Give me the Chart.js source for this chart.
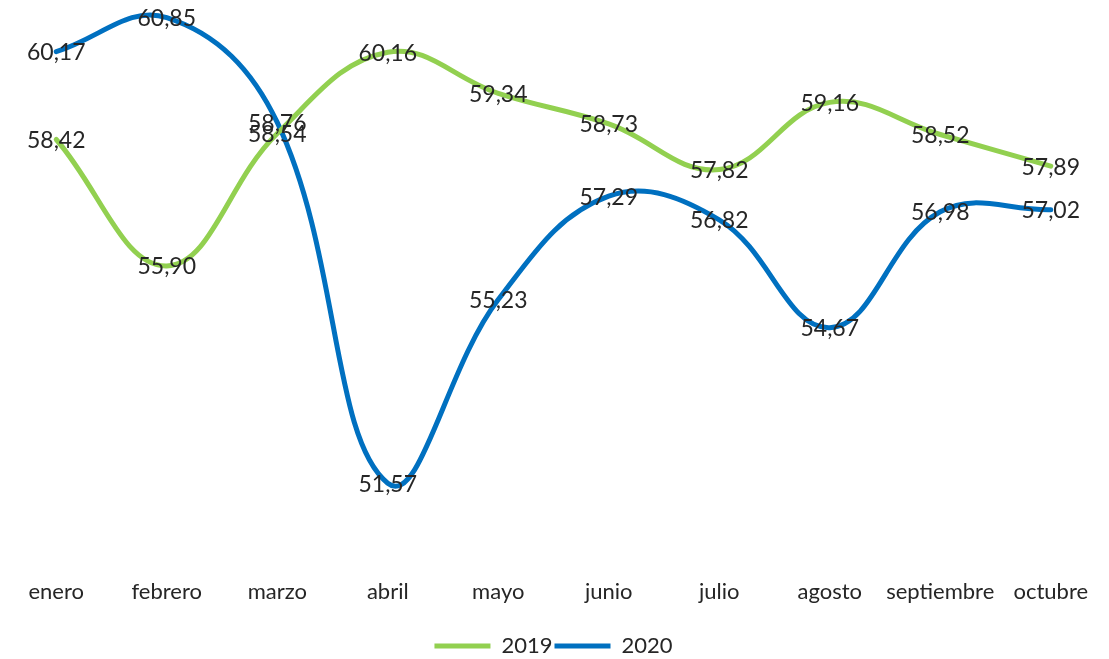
<!DOCTYPE html>
<html>
<head>
<meta charset="utf-8">
<script src="https://cdn.jsdelivr.net/npm/chart.js@4/dist/chart.umd.min.js"></script>
<style>
  html, body { margin: 0; padding: 0; background: #fff; }
  #wrap { width: 1109px; height: 659px; }
</style>
</head>
<body>
<div id="wrap"><canvas id="graph"></canvas></div>
<script>
const months = ['enero', 'febrero', 'marzo', 'abril', 'mayo', 'junio', 'julio', 'agosto', 'septiembre', 'octubre']
const values2019 = [58.42, 55.90, 58.54, 60.16, 59.34, 58.73, 57.82, 59.16, 58.52, 57.89]
const values2020 = [60.17, 60.85, 58.76, 51.57, 55.23, 57.29, 56.82, 54.67, 56.98, 57.02]

const FONT = 'Lato, "Open Sans", sans-serif'

// draws the value at the centre of each point, like excel "center" labels
const valueLabels = {
  id: 'valueLabels',
  afterDatasetsDraw(chart) {
    const ctx = chart.ctx
    ctx.save()
    ctx.font = '400 23px ' + FONT
    ctx.fillStyle = '#262626'
    ctx.textAlign = 'center'
    ctx.textBaseline = 'middle'
    chart.data.datasets.forEach((ds, i) => {
      const meta = chart.getDatasetMeta(i)
      meta.data.forEach((pt, j) => {
        ctx.fillText(ds.data[j].toFixed(2).replace('.', ','), pt.x, pt.y + 1)
      })
    })
    ctx.restore()
  },
}

new Chart(document.getElementById('graph'), {
  type: 'line',
  data: {
    labels: months,
    datasets: [
      {
        label: '2019',
        data: values2019,
        borderColor: '#92D050',
        backgroundColor: '#92D050',
        borderWidth: 5,
        borderCapStyle: 'round',
        tension: 0.4,
        pointRadius: 0,
        pointStyle: 'line',
      },
      {
        label: '2020',
        data: values2020,
        borderColor: '#0070C0',
        backgroundColor: '#0070C0',
        borderWidth: 5,
        borderCapStyle: 'round',
        tension: 0.4,
        pointRadius: 0,
        pointStyle: 'line',
      },
    ],
  },
  options: {
    responsive: true,
    maintainAspectRatio: false,
    animation: false,
    layout: { padding: { top: 0, left: 1, right: 3, bottom: -8 } },
    plugins: {
      tooltip: { enabled: false },
      legend: {
        position: 'bottom',
        labels: {
          usePointStyle: true,
          pointStyleWidth: 56,
          color: '#262626',
          font: { family: FONT, size: 22, weight: 400 },
          padding: 2,
        },
      },
    },
    scales: {
      x: {
        offset: true,
        grid: { display: false },
        border: { display: false },
        afterFit(scale) {
          scale.height = 71
        },
        ticks: {
          color: '#262626',
          font: { family: FONT, size: 22, weight: 400 },
          padding: 9,
          maxRotation: 0,
          autoSkip: false,
        },
      },
      y: {
        display: false,
        min: 50,
        max: 61.2,
      },
    },
  },
  plugins: [valueLabels],
})
</script>
</body>
</html>
